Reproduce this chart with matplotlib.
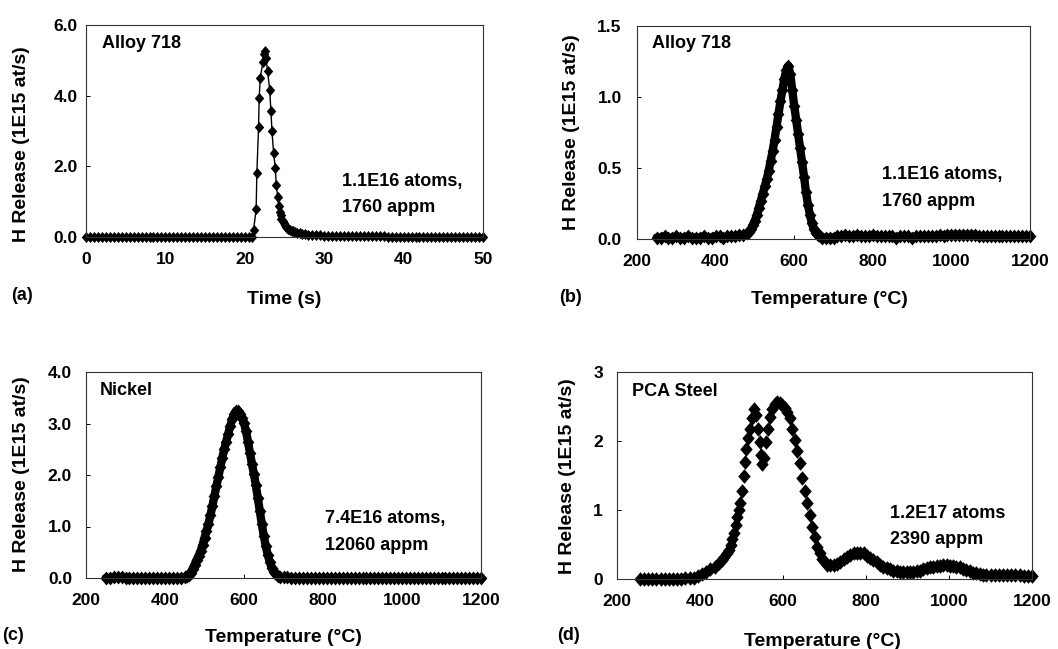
import matplotlib
matplotlib.use('Agg')
import matplotlib.pyplot as plt
from matplotlib.ticker import FormatStrFormatter

# (a) Alloy 718, isothermal release vs time
time_a = [0.0, 0.5, 1.0, 1.5, 2.0, 2.5, 3.0, 3.5, 4.0, 4.5,
          5.0, 5.5, 6.0, 6.5, 7.0, 7.5, 8.0, 8.5, 9.0, 9.5,
          10.0, 10.5, 11.0, 11.5, 12.0, 12.5, 13.0, 13.5, 14.0, 14.5,
          15.0, 15.5, 16.0, 16.5, 17.0, 17.5, 18.0, 18.5, 19.0, 19.5,
          20.0, 20.5, 20.9, 21.10, 21.43, 21.52, 21.73, 21.81, 21.94, 22.28,
          22.42, 22.55, 22.65, 22.87, 23.13, 23.29, 23.42, 23.63, 23.84, 23.96,
          24.14, 24.27, 24.40, 24.50, 24.62, 24.75, 24.90, 25.05, 25.20, 25.35,
          25.50, 25.70, 25.90, 26.10, 26.30, 26.60, 26.90, 27.20, 27.60, 28.00,
          28.5, 29.0, 29.5, 30.0, 30.5, 31.0, 31.5, 32.0, 32.5, 33.0,
          33.5, 34.0, 34.5, 35.0, 35.5, 36.0, 36.5, 37.0, 37.5, 38.0,
          38.5, 39.0, 39.5, 40.0, 40.5, 41.0, 41.5, 42.0, 42.5, 43.0,
          43.5, 44.0, 44.5, 45.0, 45.5, 46.0, 46.5, 47.0, 47.5, 48.0,
          48.5, 49.0, 49.5, 50.0]
release_a = [0.0, 0.0, 0.0, 0.0, 0.0, 0.0, 0.0, 0.0, 0.0, 0.0,
             0.0, 0.0, 0.0, 0.0, 0.0, 0.0, 0.0, 0.0, 0.0, 0.0,
             0.0, 0.0, 0.0, 0.0, 0.0, 0.0, 0.0, 0.0, 0.0, 0.0,
             0.0, 0.0, 0.0, 0.0, 0.0, 0.0, 0.0, 0.0, 0.0, 0.0,
             0.0, 0.0, 0.0, 0.20, 0.78, 1.82, 3.10, 3.92, 4.50, 4.94,
             5.18, 5.27, 5.08, 4.70, 4.17, 3.56, 3.00, 2.37, 1.96, 1.48,
             1.13, 0.88, 0.72, 0.62, 0.52, 0.45, 0.39, 0.33, 0.29, 0.26,
             0.24, 0.21, 0.18, 0.16, 0.14, 0.12, 0.10, 0.09, 0.08, 0.07,
             0.06, 0.05, 0.05, 0.04, 0.04, 0.04, 0.04, 0.03, 0.03, 0.03,
             0.03, 0.03, 0.03, 0.03, 0.02, 0.02, 0.02, 0.02, 0.02, 0.01,
             0.01, 0.01, 0.01, 0.01, 0.01, 0.01, 0.01, 0.01, 0.01, 0.01,
             0.01, 0.01, 0.01, 0.01, 0.01, 0.01, 0.01, 0.01, 0.01, 0.01,
             0.01, 0.01, 0.01, 0.01]

# (b) Alloy 718, thermal desorption
temp_b = [250, 260, 270, 280, 290, 300, 310, 320, 330, 340,
          350, 360, 370, 380, 390, 400, 410, 420, 430, 440,
          450, 460, 470, 480, 485, 490, 495, 500, 505, 510,
          515, 520, 525, 530, 535, 540, 545, 550, 555, 560,
          565, 570, 575, 580, 585, 590, 595, 600, 605, 610,
          615, 620, 625, 630, 635, 640, 645, 650, 655, 660,
          665, 670, 680, 690, 700, 710, 720, 730, 740, 750,
          760, 770, 780, 790, 800, 810, 820, 830, 840, 850,
          860, 870, 880, 890, 900, 910, 920, 930, 940, 950,
          960, 970, 980, 990, 1000, 1010, 1020, 1030, 1040, 1050,
          1060, 1070, 1080, 1090, 1100, 1110, 1120, 1130, 1140, 1150,
          1160, 1170, 1180, 1190, 1200]
release_b = [0.01, 0.01, 0.02, 0.01, 0.01, 0.02, 0.01, 0.01, 0.02, 0.01,
             0.01, 0.01, 0.02, 0.01, 0.01, 0.02, 0.02, 0.01, 0.02, 0.02,
             0.02, 0.03, 0.03, 0.04, 0.05, 0.07, 0.10, 0.13, 0.17, 0.22,
             0.27, 0.32, 0.37, 0.42, 0.48, 0.55, 0.62, 0.70, 0.79, 0.88,
             0.97, 1.05, 1.13, 1.19, 1.22, 1.16, 1.05, 0.94, 0.84, 0.74,
             0.64, 0.54, 0.44, 0.33, 0.24, 0.17, 0.11, 0.07, 0.04, 0.03,
             0.02, 0.01, 0.01, 0.01, 0.01, 0.02, 0.02, 0.03, 0.02, 0.02,
             0.03, 0.02, 0.02, 0.02, 0.03, 0.02, 0.02, 0.02, 0.02, 0.02,
             0.01, 0.02, 0.02, 0.02, 0.01, 0.02, 0.02, 0.02, 0.02, 0.02,
             0.02, 0.03, 0.02, 0.03, 0.03, 0.03, 0.03, 0.03, 0.03, 0.03,
             0.03, 0.02, 0.02, 0.02, 0.02, 0.02, 0.02, 0.02, 0.02, 0.02,
             0.02, 0.02, 0.02, 0.02, 0.02]

# (c) Nickel
temp_c = [250, 260, 270, 280, 290, 300, 310, 320, 330, 340,
          350, 360, 370, 380, 390, 400, 410, 420, 430, 440,
          450, 455, 460, 465, 470, 475, 480, 485, 490, 495,
          500, 505, 510, 515, 520, 525, 530, 535, 540, 545,
          550, 555, 560, 565, 570, 575, 580, 585, 590, 595,
          600, 605, 610, 615, 620, 625, 630, 635, 640, 645,
          650, 655, 660, 665, 670, 675, 680, 685, 690, 700,
          710, 720, 730, 740, 750, 760, 770, 780, 790, 800,
          810, 820, 830, 840, 850, 860, 870, 880, 890, 900,
          910, 920, 930, 940, 950, 960, 970, 980, 990, 1000,
          1010, 1020, 1030, 1040, 1050, 1060, 1070, 1080, 1090, 1100,
          1110, 1120, 1130, 1140, 1150, 1160, 1170, 1180, 1190, 1200]
release_c = [0.0, 0.0, 0.01, 0.02, 0.01, 0.0, 0.0, 0.0, 0.0, 0.0,
             0.0, 0.0, 0.0, 0.0, 0.0, 0.0, 0.0, 0.0, 0.0, 0.0,
             0.01, 0.03, 0.05, 0.10, 0.18, 0.26, 0.35, 0.43, 0.52, 0.64,
             0.78, 0.91, 1.05, 1.22, 1.40, 1.59, 1.78, 1.96, 2.15, 2.33,
             2.50, 2.65, 2.80, 2.95, 3.08, 3.18, 3.25, 3.24, 3.18, 3.10,
             3.01, 2.85, 2.65, 2.43, 2.22, 2.02, 1.80, 1.55, 1.30, 1.05,
             0.82, 0.62, 0.45, 0.32, 0.20, 0.12, 0.07, 0.03, 0.01, 0.01,
             0.01, 0.0, 0.0, 0.0, 0.0, 0.0, 0.0, 0.0, 0.0, 0.0,
             0.0, 0.0, 0.0, 0.0, 0.0, 0.0, 0.0, 0.0, 0.0, 0.0,
             0.0, 0.0, 0.0, 0.0, 0.0, 0.0, 0.0, 0.0, 0.0, 0.0,
             0.0, 0.0, 0.0, 0.0, 0.0, 0.0, 0.0, 0.0, 0.0, 0.0,
             0.0, 0.0, 0.0, 0.0, 0.0, 0.0, 0.0, 0.0, 0.0, 0.0]

# (d) PCA steel
temp_d = [255, 265, 275, 285, 295, 305, 315, 325, 335, 345,
          355, 365, 375, 385, 395, 405, 415, 425, 435, 445,
          452, 458, 464, 469, 474, 478, 482, 486, 490, 494,
          497, 501, 505, 508, 511, 515, 520, 526, 530, 536,
          540, 544, 547, 550, 554, 558, 563, 568, 574, 580,
          586, 592, 598, 604, 610, 616, 622, 628, 634, 640,
          646, 652, 658, 664, 670, 676, 682, 688, 694, 700,
          707, 714, 722, 730, 738, 746, 754, 762, 770, 778,
          786, 794, 802, 810, 818, 826, 834, 842, 850, 858,
          866, 874, 882, 890, 898, 906, 914, 922, 930, 938,
          946, 954, 962, 970, 978, 986, 994, 1002, 1010, 1018,
          1026, 1034, 1042, 1050, 1058, 1066, 1074, 1082, 1090, 1100,
          1110, 1120, 1130, 1140, 1150, 1160, 1170, 1180, 1190, 1200]
release_d = [0.0, 0.0, 0.0, 0.0, 0.0, 0.0, 0.0, 0.0, 0.0, 0.0,
             0.0, 0.01, 0.01, 0.02, 0.04, 0.07, 0.10, 0.14, 0.18, 0.23,
             0.27, 0.32, 0.37, 0.42, 0.50, 0.58, 0.66, 0.78, 0.90, 1.00,
             1.10, 1.27, 1.50, 1.70, 1.89, 2.04, 2.18, 2.33, 2.47, 2.38,
             2.18, 1.98, 1.79, 1.67, 1.76, 1.98, 2.18, 2.35, 2.47, 2.54,
             2.56, 2.55, 2.52, 2.48, 2.42, 2.33, 2.18, 2.02, 1.86, 1.68,
             1.47, 1.28, 1.10, 0.93, 0.76, 0.61, 0.47, 0.37, 0.29, 0.24,
             0.21, 0.20, 0.20, 0.22, 0.25, 0.29, 0.32, 0.35, 0.37, 0.38,
             0.38, 0.37, 0.34, 0.31, 0.28, 0.25, 0.21, 0.18, 0.16, 0.14,
             0.12, 0.11, 0.10, 0.10, 0.10, 0.10, 0.10, 0.11, 0.12, 0.14,
             0.16, 0.17, 0.18, 0.19, 0.19, 0.20, 0.20, 0.19, 0.19, 0.18,
             0.17, 0.15, 0.13, 0.11, 0.09, 0.08, 0.07, 0.06, 0.06, 0.06,
             0.06, 0.06, 0.06, 0.06, 0.06, 0.06, 0.06, 0.05, 0.05, 0.05]

plt.rcParams['font.family'] = ['Liberation Sans', 'DejaVu Sans']
plt.rcParams['font.weight'] = 'bold'

W, H = 1058, 649
fig = plt.figure(figsize=(W / 100, H / 100), dpi=100)

# diamond a bit taller than wide, like the scanned markers
diamond = [(0, 1), (0.85, 0), (0, -1), (-0.85, 0), (0, 1)]


def axes_px(left, top, right, bottom):
    return fig.add_axes([left / W, 1 - bottom / H, (right - left) / W, (bottom - top) / H])


def txt(x, y, s, size=13, **kw):
    fig.text(x / W, 1 - y / H, s, fontsize=size, fontweight='bold', **kw)


def style(ax, xlim, xticks, ylim, yticks, yfmt, ypad):
    ax.set_xlim(*xlim)
    ax.set_ylim(*ylim)
    ax.set_xticks(xticks)
    ax.set_yticks(yticks)
    ax.yaxis.set_major_formatter(FormatStrFormatter(yfmt))
    ax.tick_params(direction='in', length=3, width=0.7, labelsize=12.5)
    ax.tick_params(axis='x', pad=11)
    ax.tick_params(axis='y', pad=ypad)
    for s in ax.spines.values():
        s.set_linewidth(0.8)
        s.set_color('#333333')


def band(ax, x, y, ms, lw):
    # dense scanned points: a thick trace under the diamonds keeps it solid
    if lw:
        ax.plot(x, y, color='black', lw=lw, solid_joinstyle='round',
                solid_capstyle='round', clip_on=False)
    ax.plot(x, y, ls='none', marker=diamond, ms=ms, color='black',
            mew=0, clip_on=False)


temp_ticks = [200, 400, 600, 800, 1000, 1200]

ax1 = axes_px(86, 25, 483, 237)
ax1.plot(time_a, release_a, color='black', lw=1.0, marker=diamond, ms=8,
         mec='black', mfc='black', mew=0, clip_on=False)
style(ax1, (0, 50), [0, 10, 20, 30, 40, 50], (0, 6), [0, 2, 4, 6], '%.1f', 6)

ax2 = axes_px(637, 26, 1030, 239)
band(ax2, temp_b, release_b, 10, 6)
style(ax2, (200, 1200), temp_ticks, (0, 1.5), [0, 0.5, 1.0, 1.5], '%.1f', 11)

ax3 = axes_px(86, 372, 481, 578)
band(ax3, temp_c, release_c, 10, 6)
style(ax3, (200, 1200), temp_ticks, (0, 4), [0, 1, 2, 3, 4], '%.1f', 10)

ax4 = axes_px(617, 372, 1032, 579)
band(ax4, temp_d, release_d, 10.5, 0)
style(ax4, (200, 1200), temp_ticks, (0, 3), [0, 1, 2, 3], '%d', 10)

ylab = 'H Release (1E15 at/s)'
txt(22, 144, ylab, 14, rotation=90, ha='center', va='center')
txt(571, 132, ylab, 14, rotation=90, ha='center', va='center')
txt(22, 474, ylab, 14, rotation=90, ha='center', va='center')
txt(567, 476, ylab, 14, rotation=90, ha='center', va='center')

txt(284, 299, 'Time (s)', 14, ha='center', va='center')
txt(829, 299, 'Temperature (\u00b0C)', 14, ha='center', va='center')
txt(283, 637, 'Temperature (\u00b0C)', 14, ha='center', va='center')
txt(822, 641, 'Temperature (\u00b0C)', 14, ha='center', va='center')

txt(22, 295, '(a)', 13, ha='center', va='center')
txt(571, 297, '(b)', 13, ha='center', va='center')
txt(13, 636, '(c)', 13, ha='center', va='center')
txt(568, 635, '(d)', 13, ha='center', va='center')

txt(102, 43, 'Alloy 718', 13, va='center')
txt(652, 43, 'Alloy 718', 13, va='center')
txt(100, 390, 'Nickel', 13, va='center')
txt(632, 391, 'PCA Steel', 13, va='center')

txt(342, 182, '1.1E16 atoms,', 13, va='center')
txt(342, 208, '1760 appm', 13, va='center')
txt(882, 174, '1.1E16 atoms,', 13, va='center')
txt(882, 201, '1760 appm', 13, va='center')
txt(325, 519, '7.4E16 atoms,', 13, va='center')
txt(325, 546, '12060 appm', 13, va='center')
txt(890, 513, '1.2E17 atoms', 13, va='center')
txt(890, 539, '2390 appm', 13, va='center')

fig.savefig('out.png', dpi=100)
